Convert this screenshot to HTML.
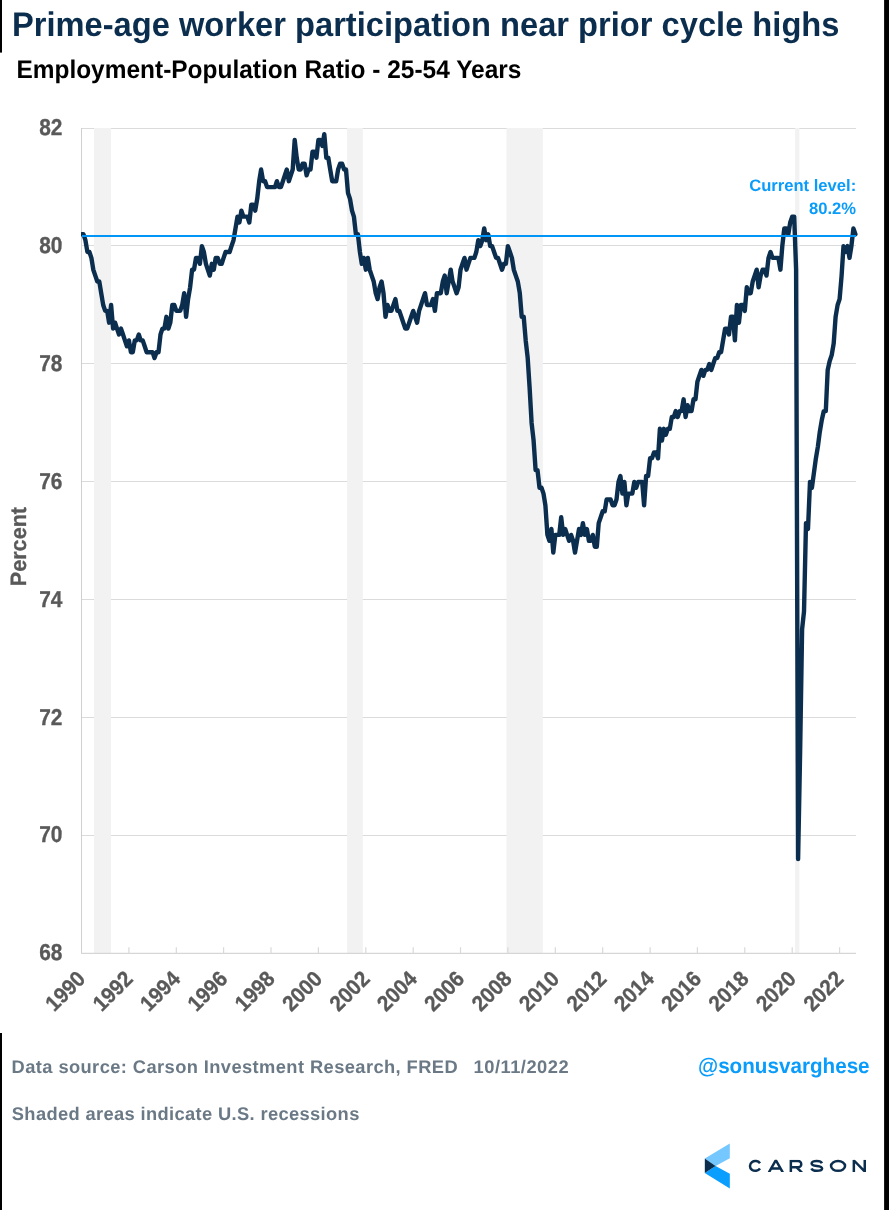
<!DOCTYPE html>
<html><head><meta charset="utf-8"><title>Prime-age worker participation</title>
<style>
html,body{margin:0;padding:0;background:#fff;}
body{width:889px;height:1210px;overflow:hidden;font-family:"Liberation Sans",sans-serif;}
svg{display:block;will-change:transform;}
text{text-rendering:geometricPrecision;font-family:"Liberation Sans",sans-serif;font-weight:bold;}
.ax{font-size:21.3px;fill:#595959;stroke:#595959;stroke-width:0.3px;}
</style></head>
<body>
<svg width="889" height="1210" viewBox="0 0 889 1210">
<rect width="889" height="1210" fill="#ffffff"/>
<!-- black edge bars -->
<rect x="0" y="0" width="2" height="52.6" fill="#000"/>
<rect x="0" y="1033" width="2" height="177" fill="#000"/>
<rect x="884.1" y="0" width="5" height="1210" fill="#000"/>
<!-- titles -->
<text transform="translate(11.9 35.9) scale(1 1.045)" font-size="32.67" fill="#0c2e4e">Prime-age worker participation near prior cycle highs</text>
<text transform="translate(16.4 77.9) scale(1 1.045)" font-size="24.46" fill="#000">Employment-Population Ratio - 25-54 Years</text>
<!-- grid -->
<line x1="81.5" x2="856" y1="835.5" y2="835.5" stroke="#dbdbdb" stroke-width="1"/>
<line x1="81.5" x2="856" y1="717.5" y2="717.5" stroke="#dbdbdb" stroke-width="1"/>
<line x1="81.5" x2="856" y1="599.5" y2="599.5" stroke="#dbdbdb" stroke-width="1"/>
<line x1="81.5" x2="856" y1="481.5" y2="481.5" stroke="#dbdbdb" stroke-width="1"/>
<line x1="81.5" x2="856" y1="363.5" y2="363.5" stroke="#dbdbdb" stroke-width="1"/>
<line x1="81.5" x2="856" y1="245.5" y2="245.5" stroke="#dbdbdb" stroke-width="1"/>
<line x1="81.5" x2="856" y1="128.5" y2="128.5" stroke="#dbdbdb" stroke-width="1"/>

<!-- recession bands -->
<g fill="#f2f2f2">
<rect x="94" y="128" width="17" height="825"/>
<rect x="347.1" y="128" width="15.7" height="825"/>
<rect x="506.5" y="128" width="36.3" height="825"/>
<rect x="795.1" y="128" width="4.3" height="825"/>
</g>
<line x1="81.5" x2="81.5" y1="128" y2="954" stroke="#d0d0d0" stroke-width="1"/>
<line x1="81" x2="856" y1="953.4" y2="953.4" stroke="#d6d6d6" stroke-width="1.1"/>
<line x1="128.9" x2="128.9" y1="947.2" y2="953.4" stroke="#d9d9d9" stroke-width="1.2"/>
<line x1="176.3" x2="176.3" y1="947.2" y2="953.4" stroke="#d9d9d9" stroke-width="1.2"/>
<line x1="223.6" x2="223.6" y1="947.2" y2="953.4" stroke="#d9d9d9" stroke-width="1.2"/>
<line x1="271.0" x2="271.0" y1="947.2" y2="953.4" stroke="#d9d9d9" stroke-width="1.2"/>
<line x1="318.4" x2="318.4" y1="947.2" y2="953.4" stroke="#d9d9d9" stroke-width="1.2"/>
<line x1="365.8" x2="365.8" y1="947.2" y2="953.4" stroke="#d9d9d9" stroke-width="1.2"/>
<line x1="413.2" x2="413.2" y1="947.2" y2="953.4" stroke="#d9d9d9" stroke-width="1.2"/>
<line x1="460.5" x2="460.5" y1="947.2" y2="953.4" stroke="#d9d9d9" stroke-width="1.2"/>
<line x1="507.9" x2="507.9" y1="947.2" y2="953.4" stroke="#d9d9d9" stroke-width="1.2"/>
<line x1="555.3" x2="555.3" y1="947.2" y2="953.4" stroke="#d9d9d9" stroke-width="1.2"/>
<line x1="602.7" x2="602.7" y1="947.2" y2="953.4" stroke="#d9d9d9" stroke-width="1.2"/>
<line x1="650.1" x2="650.1" y1="947.2" y2="953.4" stroke="#d9d9d9" stroke-width="1.2"/>
<line x1="697.4" x2="697.4" y1="947.2" y2="953.4" stroke="#d9d9d9" stroke-width="1.2"/>
<line x1="744.8" x2="744.8" y1="947.2" y2="953.4" stroke="#d9d9d9" stroke-width="1.2"/>
<line x1="792.2" x2="792.2" y1="947.2" y2="953.4" stroke="#d9d9d9" stroke-width="1.2"/>
<line x1="839.6" x2="839.6" y1="947.2" y2="953.4" stroke="#d9d9d9" stroke-width="1.2"/>

<!-- labels -->
<text transform="translate(62.5 960.2) scale(1 1.1)" text-anchor="end" class="ax" style="font-size:20.9px">68</text>
<text transform="translate(62.5 842.3) scale(1 1.1)" text-anchor="end" class="ax" style="font-size:20.9px">70</text>
<text transform="translate(62.5 724.5) scale(1 1.1)" text-anchor="end" class="ax" style="font-size:20.9px">72</text>
<text transform="translate(62.5 606.6) scale(1 1.1)" text-anchor="end" class="ax" style="font-size:20.9px">74</text>
<text transform="translate(62.5 488.7) scale(1 1.1)" text-anchor="end" class="ax" style="font-size:20.9px">76</text>
<text transform="translate(62.5 370.8) scale(1 1.1)" text-anchor="end" class="ax" style="font-size:20.9px">78</text>
<text transform="translate(62.5 252.9) scale(1 1.1)" text-anchor="end" class="ax" style="font-size:20.9px">80</text>
<text transform="translate(62.5 135.0) scale(1 1.1)" text-anchor="end" class="ax" style="font-size:20.9px">82</text>

<text transform="translate(86.7 980.2) rotate(-45) scale(1 1.06)" text-anchor="end" class="ax" style="font-size:20.6px">1990</text>
<text transform="translate(134.1 980.2) rotate(-45) scale(1 1.06)" text-anchor="end" class="ax" style="font-size:20.6px">1992</text>
<text transform="translate(181.5 980.2) rotate(-45) scale(1 1.06)" text-anchor="end" class="ax" style="font-size:20.6px">1994</text>
<text transform="translate(228.8 980.2) rotate(-45) scale(1 1.06)" text-anchor="end" class="ax" style="font-size:20.6px">1996</text>
<text transform="translate(276.2 980.2) rotate(-45) scale(1 1.06)" text-anchor="end" class="ax" style="font-size:20.6px">1998</text>
<text transform="translate(323.6 980.2) rotate(-45) scale(1 1.06)" text-anchor="end" class="ax" style="font-size:20.6px">2000</text>
<text transform="translate(371.0 980.2) rotate(-45) scale(1 1.06)" text-anchor="end" class="ax" style="font-size:20.6px">2002</text>
<text transform="translate(418.4 980.2) rotate(-45) scale(1 1.06)" text-anchor="end" class="ax" style="font-size:20.6px">2004</text>
<text transform="translate(465.7 980.2) rotate(-45) scale(1 1.06)" text-anchor="end" class="ax" style="font-size:20.6px">2006</text>
<text transform="translate(513.1 980.2) rotate(-45) scale(1 1.06)" text-anchor="end" class="ax" style="font-size:20.6px">2008</text>
<text transform="translate(560.5 980.2) rotate(-45) scale(1 1.06)" text-anchor="end" class="ax" style="font-size:20.6px">2010</text>
<text transform="translate(607.9 980.2) rotate(-45) scale(1 1.06)" text-anchor="end" class="ax" style="font-size:20.6px">2012</text>
<text transform="translate(655.3 980.2) rotate(-45) scale(1 1.06)" text-anchor="end" class="ax" style="font-size:20.6px">2014</text>
<text transform="translate(702.6 980.2) rotate(-45) scale(1 1.06)" text-anchor="end" class="ax" style="font-size:20.6px">2016</text>
<text transform="translate(750.0 980.2) rotate(-45) scale(1 1.06)" text-anchor="end" class="ax" style="font-size:20.6px">2018</text>
<text transform="translate(797.4 980.2) rotate(-45) scale(1 1.06)" text-anchor="end" class="ax" style="font-size:20.6px">2020</text>
<text transform="translate(844.8 980.2) rotate(-45) scale(1 1.06)" text-anchor="end" class="ax" style="font-size:20.6px">2022</text>

<text transform="translate(26 586.2) rotate(-90) scale(1 1.03)" font-size="21.6" fill="#595959" stroke="#595959" stroke-width="0.3">Percent</text>
<!-- data -->
<clipPath id="cp"><rect x="81" y="100" width="780" height="860"/></clipPath>
<path clip-path="url(#cp)" d="M81.5 234.3 L83.5 234.3 L85.4 240.2 L87.4 252.0 L89.4 252.0 L91.4 257.9 L93.3 269.7 L95.3 275.6 L97.3 281.5 L99.3 281.5 L101.2 293.2 L103.2 305.0 L105.2 310.9 L107.2 310.9 L109.1 322.7 L111.1 305.0 L113.1 328.6 L115.1 322.7 L117.0 328.6 L119.0 334.5 L121.0 328.6 L123.0 334.5 L124.9 340.4 L126.9 346.3 L128.9 340.4 L130.9 352.2 L132.8 352.2 L134.8 340.4 L136.8 340.4 L138.8 334.5 L140.7 340.4 L142.7 340.4 L144.7 346.3 L146.6 352.2 L148.6 352.2 L150.6 352.2 L152.6 352.2 L154.5 358.1 L156.5 352.2 L158.5 352.2 L160.5 334.5 L162.4 328.6 L164.4 328.6 L166.4 316.8 L168.4 328.6 L170.3 322.7 L172.3 305.0 L174.3 305.0 L176.3 310.9 L178.2 310.9 L180.2 310.9 L182.2 305.0 L184.2 293.2 L186.1 316.8 L188.1 299.1 L190.1 287.3 L192.1 269.7 L194.0 269.7 L196.0 257.9 L198.0 257.9 L199.9 263.8 L201.9 246.1 L203.9 252.0 L205.9 263.8 L207.8 269.7 L209.8 275.6 L211.8 263.8 L213.8 269.7 L215.7 257.9 L217.7 257.9 L219.7 263.8 L221.7 263.8 L223.6 257.9 L225.6 252.0 L227.6 252.0 L229.6 252.0 L231.5 246.1 L233.5 240.2 L235.5 228.4 L237.5 216.6 L239.4 222.5 L241.4 210.7 L243.4 216.6 L245.4 216.6 L247.3 216.6 L249.3 222.5 L251.3 204.8 L253.3 204.8 L255.2 210.7 L257.2 198.9 L259.2 181.2 L261.1 169.5 L263.1 181.2 L265.1 181.2 L267.1 187.1 L269.0 187.1 L271.0 187.1 L273.0 187.1 L275.0 187.1 L276.9 181.2 L278.9 187.1 L280.9 187.1 L282.9 181.2 L284.8 175.4 L286.8 169.5 L288.8 181.2 L290.8 175.4 L292.7 169.5 L294.7 140.0 L296.7 157.7 L298.7 169.5 L300.6 169.5 L302.6 163.6 L304.6 163.6 L306.6 175.4 L308.5 169.5 L310.5 169.5 L312.5 151.8 L314.5 151.8 L316.4 157.7 L318.4 140.0 L320.4 140.0 L322.3 145.9 L324.3 134.1 L326.3 157.7 L328.3 157.7 L330.2 169.5 L332.2 181.2 L334.2 181.2 L336.2 181.2 L338.1 169.5 L340.1 163.6 L342.1 163.6 L344.1 169.5 L346.0 169.5 L348.0 193.0 L350.0 198.9 L352.0 210.7 L353.9 216.6 L355.9 234.3 L357.9 234.3 L359.9 252.0 L361.8 263.8 L363.8 257.9 L365.8 269.7 L367.8 257.9 L369.7 269.7 L371.7 275.6 L373.7 281.5 L375.7 293.2 L377.6 299.1 L379.6 287.3 L381.6 281.5 L383.5 293.2 L385.5 316.8 L387.5 305.0 L389.5 310.9 L391.4 310.9 L393.4 305.0 L395.4 299.1 L397.4 310.9 L399.3 310.9 L401.3 316.8 L403.3 322.7 L405.3 328.6 L407.2 328.6 L409.2 322.7 L411.2 316.8 L413.2 310.9 L415.1 316.8 L417.1 322.7 L419.1 310.9 L421.1 305.0 L423.0 299.1 L425.0 293.2 L427.0 305.0 L429.0 305.0 L430.9 305.0 L432.9 299.1 L434.9 310.9 L436.9 293.2 L438.8 293.2 L440.8 293.2 L442.8 281.5 L444.7 275.6 L446.7 293.2 L448.7 281.5 L450.7 269.7 L452.6 281.5 L454.6 287.3 L456.6 293.2 L458.6 287.3 L460.5 269.7 L462.5 263.8 L464.5 257.9 L466.5 269.7 L468.4 263.8 L470.4 257.9 L472.4 257.9 L474.4 257.9 L476.3 252.0 L478.3 240.2 L480.3 246.1 L482.3 240.2 L484.2 228.4 L486.2 240.2 L488.2 234.3 L490.2 246.1 L492.1 246.1 L494.1 252.0 L496.1 257.9 L498.0 257.9 L500.0 263.8 L502.0 269.7 L504.0 263.8 L505.9 263.8 L507.9 246.1 L509.9 252.0 L511.9 257.9 L513.8 269.7 L515.8 275.6 L517.8 281.5 L519.8 293.2 L521.7 316.8 L523.7 316.8 L525.7 340.4 L527.7 358.1 L529.6 387.5 L531.6 422.9 L533.6 440.6 L535.6 470.1 L537.5 470.1 L539.5 487.8 L541.5 487.8 L543.5 493.6 L545.4 505.4 L547.4 534.9 L549.4 540.8 L551.4 529.0 L553.3 552.6 L555.3 534.9 L557.3 534.9 L559.2 534.9 L561.2 517.2 L563.2 534.9 L565.2 529.0 L567.1 534.9 L569.1 540.8 L571.1 534.9 L573.1 540.8 L575.0 552.6 L577.0 540.8 L579.0 529.0 L581.0 534.9 L582.9 523.1 L584.9 534.9 L586.9 529.0 L588.9 540.8 L590.8 540.8 L592.8 534.9 L594.8 546.7 L596.8 546.7 L598.7 523.1 L600.7 517.2 L602.7 511.3 L604.7 511.3 L606.6 499.5 L608.6 499.5 L610.6 499.5 L612.6 505.4 L614.5 505.4 L616.5 499.5 L618.5 481.9 L620.4 476.0 L622.4 493.6 L624.4 481.9 L626.4 505.4 L628.3 493.6 L630.3 493.6 L632.3 493.6 L634.3 481.9 L636.2 487.8 L638.2 481.9 L640.2 481.9 L642.2 481.9 L644.1 505.4 L646.1 476.0 L648.1 476.0 L650.1 458.3 L652.0 458.3 L654.0 452.4 L656.0 452.4 L658.0 458.3 L659.9 428.8 L661.9 440.6 L663.9 428.8 L665.9 434.7 L667.8 428.8 L669.8 428.8 L671.8 417.0 L673.8 417.0 L675.7 411.1 L677.7 417.0 L679.7 411.1 L681.6 411.1 L683.6 399.3 L685.6 417.0 L687.6 405.2 L689.5 411.1 L691.5 411.1 L693.5 399.3 L695.5 399.3 L697.4 381.7 L699.4 375.8 L701.4 369.9 L703.4 375.8 L705.3 369.9 L707.3 369.9 L709.3 364.0 L711.3 369.9 L713.2 364.0 L715.2 358.1 L717.2 358.1 L719.2 352.2 L721.1 352.2 L723.1 340.4 L725.1 328.6 L727.1 328.6 L729.0 334.5 L731.0 316.8 L733.0 316.8 L734.9 340.4 L736.9 305.0 L738.9 322.7 L740.9 305.0 L742.8 305.0 L744.8 310.9 L746.8 287.3 L748.8 293.2 L750.7 293.2 L752.7 281.5 L754.7 275.6 L756.7 269.7 L758.6 287.3 L760.6 275.6 L762.6 269.7 L764.6 269.7 L766.5 275.6 L768.5 257.9 L770.5 252.0 L772.5 257.9 L774.4 257.9 L776.4 257.9 L778.4 257.9 L780.4 269.7 L782.3 246.1 L784.3 228.4 L786.3 228.4 L788.3 234.3 L790.2 222.5 L792.2 216.6 L794.2 216.6 L796.1 269.7 L798.1 859.1 L800.1 753.0 L802.1 629.2 L804.0 611.5 L806.0 523.1 L808.0 529.0 L810.0 481.9 L811.9 487.8 L813.9 473.0 L815.9 458.3 L817.9 446.5 L819.8 431.8 L821.8 420.0 L823.8 411.1 L825.8 411.1 L827.7 369.9 L829.7 361.0 L831.7 355.1 L833.7 343.3 L835.6 316.8 L837.6 305.0 L839.6 299.1 L841.6 275.6 L843.5 246.1 L845.5 252.0 L847.5 246.1 L849.5 257.9 L851.4 246.1 L853.4 228.4 L855.4 234.3" fill="none" stroke="#0c2e4e" stroke-width="4.4" stroke-linejoin="round" stroke-linecap="round"/>
<!-- current level line -->
<line x1="82" x2="856" y1="236" y2="236" stroke="#0096f8" stroke-width="2.2"/>
<!-- annotation -->
<text x="856.2" y="191.2" text-anchor="end" font-size="16.6" fill="#0a9cfa">Current level:</text>
<text x="856" y="213.9" text-anchor="end" font-size="16.6" fill="#0a9cfa">80.2%</text>
<!-- footer -->
<text x="11.6" y="1073.4" font-size="18.3" fill="#6a7985" textLength="446" lengthAdjust="spacing">Data source: Carson Investment Research, FRED</text>
<text x="473.6" y="1073.4" font-size="18.3" fill="#6a7985" textLength="95" lengthAdjust="spacing">10/11/2022</text>
<text x="11.8" y="1119.7" font-size="18.3" fill="#6a7985" textLength="347.5" lengthAdjust="spacing">Shaded areas indicate U.S. recessions</text>
<text x="698" y="1073.4" font-size="21.5" fill="#0a9cfa" textLength="171.6" lengthAdjust="spacingAndGlyphs">@sonusvarghese</text>
<!-- logo -->
<g id="logo">
<polygon points="704.8,1158.6 729.8,1143.4 729.8,1158.3 715.6,1165.9" fill="#74c7ff"/>
<polygon points="704.8,1173.1 715.6,1165.9 729.8,1173.8 729.8,1188.6" fill="#0a9eff"/>
<polygon points="704.8,1158.6 715.6,1165.9 704.8,1173.1" fill="#0c2e4e"/>
<clipPath id="lc"><rect x="-1" y="0" width="20" height="12.3"/></clipPath>
<g fill="none" stroke="#0c2e4e" stroke-width="2.5" stroke-linejoin="miter">
<path transform="translate(748.7 1159.8)" d="M11.3 3.5 A5.45 4.9 0 1 0 11.3 8.8"/>
<path clip-path="url(#lc)" transform="translate(767.6 1159.8)" d="M1.3 12.6 L8.25 0.4 L15.2 12.6 M3.6 8.7 H12.9"/>
<path clip-path="url(#lc)" transform="translate(789.6 1159.8)" d="M1.25 12.3 V1.25 H8.5 A3.15 3.15 0 0 1 8.5 7.55 H1.25 M7 7.55 L12.4 12.8"/>
<path transform="translate(810.1 1159.8)" d="M11.8 3.5 C11.2 1.9 9 1.25 6.7 1.25 C3.7 1.25 1.5 2.1 1.5 3.7 C1.5 5.3 3.6 5.75 6.7 6.1 C9.8 6.45 12.0 6.9 12.0 8.7 C12.0 10.3 9.8 11.05 6.7 11.05 C4 11.05 2 10.4 1.3 8.7"/>
<ellipse cx="838.05" cy="1165.95" rx="7.0" ry="4.9"/>
<path clip-path="url(#lc)" transform="translate(852.6 1159.8)" d="M1.25 12.3 V0 M12.15 12.3 V0 M0.9 0.2 L12.5 12.1"/>
</g>
</g>
</svg>
</body></html>
